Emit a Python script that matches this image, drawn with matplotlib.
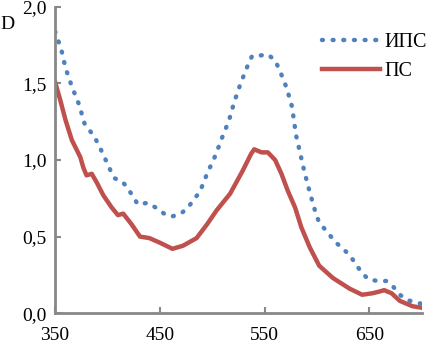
import numpy as np
import matplotlib.pyplot as plt

plt.rcParams['font.family'] = ['Liberation Serif', 'DejaVu Serif']

# ИПС (dotted blue)
wl_ips = [350, 353, 356, 360, 366, 373, 378, 382, 387, 395, 403, 407, 414, 419, 429, 438, 446, 454, 461, 470, 477, 482,
          488, 495, 503, 509, 516, 521, 527, 534, 538, 543, 553, 560, 564, 567, 571, 576, 580, 584, 588, 593, 598, 601, 606,
          612, 618, 625, 632, 637, 642, 649, 658, 666, 673, 679, 686, 695, 700]
d_ips = [1.84, 1.78, 1.72, 1.60, 1.48, 1.36, 1.24, 1.20, 1.16, 1.05, 0.93, 0.88, 0.86, 0.82, 0.71, 0.72, 0.69, 0.65, 0.63, 0.65, 0.69, 0.74,
         0.79, 0.91, 1.03, 1.14, 1.26, 1.38, 1.50, 1.62, 1.68, 1.68, 1.69, 1.65, 1.59, 1.54, 1.47, 1.35, 1.16, 1.04, 0.92, 0.79, 0.67, 0.61, 0.56,
         0.51, 0.46, 0.42, 0.37, 0.32, 0.27, 0.22, 0.21, 0.21, 0.17, 0.12, 0.085, 0.07, 0.06]

# ПС (solid red)
wl_ps = [350, 355, 360, 366, 374, 377, 380, 385, 390, 396, 404, 410, 415, 423, 431, 440, 450, 462, 472, 485,
         495, 504, 517, 529, 537, 540, 547, 553, 560, 566, 572, 579, 585, 593, 602, 615, 631, 643, 653, 659, 664, 671, 679, 691, 700]
d_ps = [1.51, 1.39, 1.26, 1.13, 1.02, 0.95, 0.90, 0.91, 0.85, 0.77, 0.69, 0.64, 0.65, 0.58, 0.50, 0.49, 0.46, 0.42, 0.44, 0.49,
        0.58, 0.67, 0.78, 0.93, 1.04, 1.07, 1.05, 1.05, 1.00, 0.91, 0.80, 0.69, 0.56, 0.43, 0.31, 0.23, 0.16, 0.12, 0.13, 0.14, 0.15, 0.13, 0.08, 0.045, 0.035]

xticks = [350, 450, 550, 650]
yticks = [0.0, 0.5, 1.0, 1.5, 2.0]
ytick_labels = ['0,0', '0,5', '1,0', '1,5', '2,0']

fig = plt.figure(figsize=(4.27, 3.46), dpi=100)
ax = fig.add_axes([0.129, 0.095, 0.859, 0.885])

ax.plot(wl_ips, d_ips, color='#4F81BD', lw=3.2, ls=(0, (0.2, 2.2)), dash_capstyle='round', label='ИПС')
ax.plot(wl_ps, d_ps, color='#C0504D', lw=3.2, label='ПС')

ax.set_xlim(350, 700)
ax.set_ylim(0, 2.0)
ax.set_xticks(xticks)
ax.set_yticks(yticks)
ax.set_yticklabels(ytick_labels)
ax.tick_params(direction='in', length=4, width=1.5, color='#888888', labelsize=14, pad=6)
ax.tick_params(axis='x', pad=10)
for s in ['top', 'right']:
    ax.spines[s].set_visible(False)
for s in ['left', 'bottom']:
    ax.spines[s].set_color('#888888')
    ax.spines[s].set_linewidth(2)

ax.legend(loc='upper left', bbox_to_anchor=(0.754, 0.905), bbox_transform=fig.transFigure,
          frameon=False, fontsize=14.5, borderpad=0, borderaxespad=0,
          handlelength=2.9, handletextpad=0.2, labelspacing=0.5)

fig.text(0.002, 0.915, 'D', fontsize=14)

fig.savefig('out.png', dpi=100)
